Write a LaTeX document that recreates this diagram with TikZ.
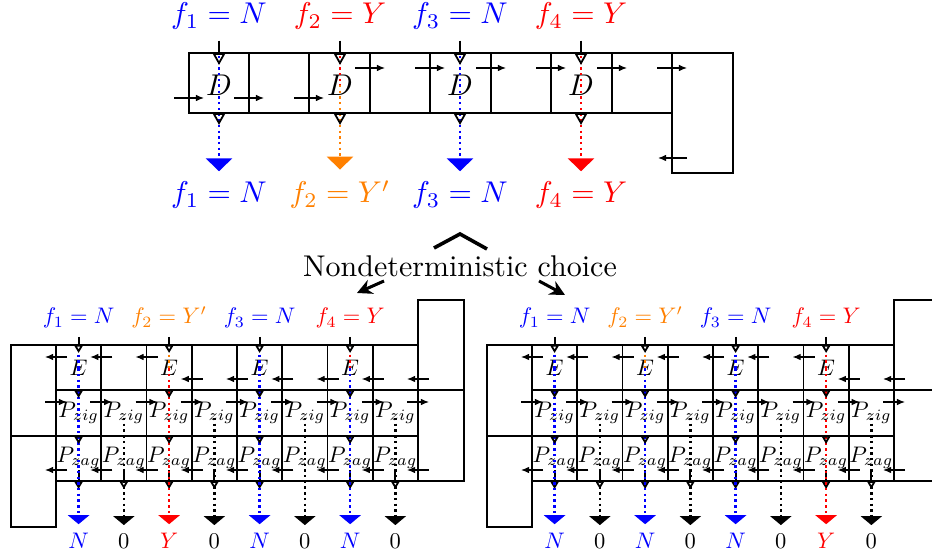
\documentclass[tikz,border=0pt]{standalone}
\usepackage{tikz}
\usetikzlibrary{arrows.meta}
\newcommand{\shrunk}[1]{\scalebox{0.75}{#1}}
\tikzset{
  flow/.style={thin,-{Latex[length=2.7pt,width=2.2pt]}},
  gate/.style={-{Triangle[open,length=4pt,width=4.3pt]}},
  minigate/.style={-{Triangle[open,length=2.7pt,width=3pt]}},
  trace/.style={line width=0.8pt,dash pattern=on 0.8pt off 1.1pt},
  tracetip/.style={trace,-{Triangle[length=4.3pt,width=8.7pt]}},
  minitracetip/.style={trace,-{Triangle[length=3pt,width=7pt]}},
}

\begin{document}
\begin{tikzpicture}[x=0.3333pt,y=-0.3333pt,semithick]
\useasboundingbox (0,0) rectangle (932,557);
\clip (0,0) rectangle (932,557);

% top chain of cells
\draw (189,53) rectangle (672,113);
\foreach \x in {249,309,370,430,491,551,612}
  \draw (\x,53) -- (\x,113);
\draw (672,53) rectangle (733,173);
\foreach \x in {189,249,309}
  \draw[flow] (\x-15,98) -- (\x+15,98);
\foreach \x in {370,430,491,551,612,672}
  \draw[flow] (\x-15,68) -- (\x+15,68);
\draw[flow] (687,158) -- (658,158);

% D cells, inputs and outputs
\foreach \i/\x/\cin/\cout/\vin/\vout in
  {1/219/blue/blue/N/N, 2/340/red/orange/Y/Y', 3/460/blue/blue/N/N, 4/581/red/red/Y/Y} {
  \node (d\i) at (\x,85) {$D$};
  \node[text=\cin,anchor=base] (fin\i) at (\x,24) {$f_\i = \vin$};
  \node[text=\cout,anchor=base] (fout\i) at (\x,203) {$f_\i = \vout$};
  \draw[trace,color=\cin] (\x,56) -- (d\i.center);
  \draw[tracetip,color=\cout] (d\i.center) -- (fout\i.north);
  \draw[gate] (fin\i.south) -- (\x,65);
  \draw[gate] (\x,113) -- (\x,125);
}

% the choice
\node[anchor=base] (choice) at (460,277) {Nondeterministic choice};
\draw[line width=1.2pt] (434,248) -- (460,234) -- (487,249);
\coordinate (forkl) at (384,281);
\coordinate (forkr) at (539,281);
\coordinate (pickl) at (357,293);
\coordinate (pickr) at (565,295);
\draw[line width=1pt,-{Stealth[length=5pt,width=5pt]}] (forkl) -- (pickl);
\draw[line width=1pt,-{Stealth[length=5pt,width=5pt]}] (forkr) -- (pickr);

% the two zig-zag chains
\foreach \dx/\nup/\cols in
  {0/3/{0/1/blue/blue/N/N,2/2/orange/red/Y'/Y,4/3/blue/blue/N/N,6/4/red/blue/Y/N},
   476/7/{0/1/blue/blue/N/N,2/2/orange/blue/Y'/N,4/3/blue/blue/N/N,6/4/red/red/Y/Y}} {
\begin{scope}[shift={(\dx,0)},every node/.style={inner sep=2.5pt}]
  \draw (11,345) rectangle (56,436);
  \draw (11,436) rectangle (56,527);
  \draw (56,345) rectangle (418,481);
  \draw (418,300) rectangle (464,481);
  \draw (56,390) -- (464,390);
  \draw (56,436) -- (418,436);
  \foreach \k in {1,...,7}
    \draw (56+45.25*\k,345) -- (56+45.25*\k,481);
  \foreach \k in {0,...,8} {
    \pgfmathsetmacro\ey{\k<\nup ? 357 : 379}
    \draw[flow] (67+45.25*\k,\ey) -- (45+45.25*\k,\ey);
    \draw[flow] (45+45.25*\k,402) -- (67+45.25*\k,402);
    \draw[flow] (67+45.25*\k,470) -- (45+45.25*\k,470);
  }
  \foreach \j in {0,...,7} {
    \node[anchor=base] (zig\dx-\j) at (78.6+45.25*\j,417) {\shrunk{$P_{zig}$}};
    \node[anchor=base] (zag\dx-\j) at (78.6+45.25*\j,462) {\shrunk{$P_{zag}$}};
  }
  \foreach \j in {0,1,2,3,4,6,7}
    \draw[minigate] (78.6+45.25*\j,470) -- (78.6+45.25*\j,489);
  \foreach \j in {1,3,5,7} {
    \node[anchor=base] (res\dx-\j) at (78.6+45.25*\j,548) {\shrunk{$0$}};
    \draw[minitracetip] (78.6+45.25*\j,418) -- (res\dx-\j.north);
  }
  \foreach \j/\i/\cin/\cout/\vin/\vout in \cols {
    \node[text=\cin,anchor=base] (fin\dx-\i) at (78.6+45.25*\j,324) {\shrunk{$f_\i = \vin$}};
    \node[anchor=base] (e\dx-\i) at (78.6+45.25*\j,376) {\shrunk{$E$}};
    \node[text=\cout,anchor=base] (res\dx-\j) at (78.6+45.25*\j,548) {\shrunk{$\vout$}};
    \draw[trace,color=\cin] (78.6+45.25*\j,349) -- (e\dx-\i.center);
    \draw[minitracetip,color=\cout] (e\dx-\i.center) -- (res\dx-\j.north);
    \draw[minigate] (fin\dx-\i.south) -- (78.6+45.25*\j,353);
    \draw[minigate] (78.6+45.25*\j,390) -- (78.6+45.25*\j,398);
    \draw[minigate] (78.6+45.25*\j,436) -- (78.6+45.25*\j,444);
  }
\end{scope}}
\end{tikzpicture}
\end{document}
